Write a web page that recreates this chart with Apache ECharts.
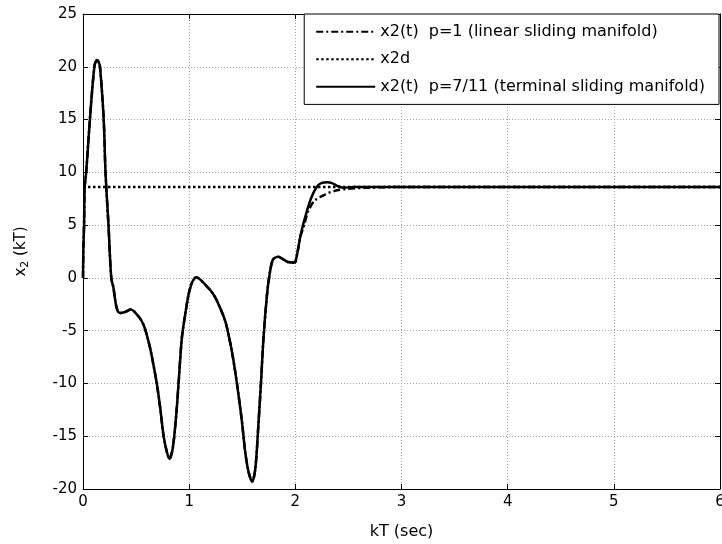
<!DOCTYPE html>
<html>
<head>
<meta charset="utf-8">
<script src="https://cdn.jsdelivr.net/npm/echarts@6/dist/echarts.min.js"></script>
<style>
  html, body { margin: 0; padding: 0; background: #fff; }
  #chart { width: 722px; height: 544px; }
</style>
</head>
<body>
<div id="chart"></div>
<script>
// time samples shared by both responses up to t = 2 (sec)
var tCommon = [0, 0.004, 0.01, 0.016, 0.03, 0.065, 0.107, 0.13, 0.145, 0.16, 0.195, 0.212, 0.24, 0.266,
  0.286, 0.317, 0.349, 0.396, 0.45, 0.522, 0.57, 0.6, 0.632, 0.663, 0.695, 0.727, 0.758, 0.79, 0.815,
  0.846, 0.878, 0.9, 0.931, 0.962, 0.994, 1.025, 1.066, 1.151, 1.23, 1.292, 1.34, 1.371, 1.403, 1.434,
  1.465, 1.497, 1.528, 1.56, 1.593, 1.623, 1.654, 1.676, 1.7, 1.733, 1.757, 1.79, 1.84, 1.88, 1.93,
  1.98, 2.0];
var x2Common = [0, 3, 5, 8.6, 10, 15, 20, 20.65, 20.5, 20, 15, 10, 5, 0,
  -0.9, -2.85, -3.32, -3.23, -3.0, -3.64, -4.43, -5.38, -6.65, -8.2, -10, -12.3, -14.9, -16.5, -17.15,
  -16.1, -13, -10, -5.7, -3.5, -1.6, -0.5, 0.05, -0.63, -1.58, -2.85, -4.1, -5.4, -7, -8.9,
  -11.1, -13.6, -16.5, -18.4, -19.3, -18.1, -13.6, -10, -5.7, -1.6, 0.3, 1.75, 2.0, 1.8, 1.5,
  1.45, 1.5];

// p = 1 (linear sliding manifold) after t = 2
var tLinear = [2.05, 2.08, 2.12, 2.18, 2.28, 2.37, 2.5, 2.69, 2.9, 6];
var x2Linear = [4.0, 4.9, 6.3, 7.3, 7.9, 8.24, 8.45, 8.55, 8.6, 8.6];

// p = 7/11 (terminal sliding manifold) after t = 2
var tTerminal = [2.05, 2.09, 2.15, 2.21, 2.25, 2.3, 2.34, 2.4, 2.45, 2.55, 6];
var x2Terminal = [4.07, 5.67, 7.6, 8.72, 9.0, 9.05, 9.0, 8.7, 8.55, 8.6, 8.6];

// desired value
var tDesired = [0, 6];
var x2dValue = 8.6;

var names = [
  'x2(t)  p=1 (linear sliding manifold)',
  'x2d',
  'x2(t)  p=7/11 (terminal sliding manifold)'
];

function pairs(ts, ys) {
  return ts.map(function (t, i) { return [t, ys[i]]; });
}

var linearData = pairs(tCommon, x2Common).concat(pairs(tLinear, x2Linear));
var terminalData = pairs(tCommon, x2Common).concat(pairs(tTerminal, x2Terminal));
var desiredData = tDesired.map(function (t) { return [t, x2dValue]; });

var font = "'DejaVu Sans', sans-serif";
var chart = echarts.init(document.getElementById('chart'));

var gridLine = { show: true, lineStyle: { color: '#a0a0a0', type: [1, 2], width: 1 } };
var boxLine = { show: true, onZero: false, lineStyle: { color: '#000', width: 1 } };
var inTick = { show: true, inside: true, length: 5, lineStyle: { color: '#000' } };

var option = {
  animation: false,
  backgroundColor: '#fff',
  textStyle: { fontFamily: font },
  grid: { left: 83, right: 2, top: 14, bottom: 55, containLabel: false, outerBoundsMode: 'none' },
  legend: {
    orient: 'vertical',
    right: 3,
    top: 14,
    data: names,
    itemWidth: 59,
    itemHeight: 14,
    itemGap: 11.5,
    padding: [9.7, 14, 9.7, 11],
    backgroundColor: '#fff',
    borderColor: '#000',
    borderWidth: 1,
    borderRadius: 0,
    itemStyle: { opacity: 0 },
    textStyle: { fontFamily: font, fontSize: 16, lineHeight: 14, color: '#000' }
  },
  xAxis: [
    {
      type: 'value', min: 0, max: 6, interval: 1,
      axisLine: boxLine, axisTick: inTick, splitLine: gridLine,
      axisLabel: { color: '#000', fontSize: 15, fontFamily: font, margin: 6 },
      name: 'kT (sec)', nameLocation: 'middle', nameGap: 35,
      nameTextStyle: { color: '#000', fontSize: 16, fontFamily: font }
    },
    {
      type: 'value', position: 'top', min: 0, max: 6, interval: 1,
      axisLine: boxLine, axisTick: inTick, splitLine: { show: false },
      axisLabel: { show: false }
    }
  ],
  yAxis: [
    {
      type: 'value', min: -20, max: 25, interval: 5,
      axisLine: boxLine, axisTick: inTick, splitLine: gridLine,
      axisLabel: { color: '#000', fontSize: 15, fontFamily: font, margin: 6 },
      name: '{a|x}{b|2}{a| (kT)}', nameLocation: 'middle', nameGap: 52, nameRotate: 90,
      nameTextStyle: {
        color: '#000', fontFamily: font,
        rich: {
          a: { fontSize: 15, fontFamily: font, color: '#000' },
          b: { fontSize: 11, fontFamily: font, color: '#000', padding: [8, 0, 0, 0] }
        }
      }
    },
    {
      type: 'value', position: 'right', min: -20, max: 25, interval: 5,
      axisLine: boxLine, axisTick: inTick, splitLine: { show: false },
      axisLabel: { show: false }
    }
  ],
  series: [
    {
      name: names[0], type: 'line', data: linearData, symbol: 'none', smooth: 0.3,
      itemStyle: { color: '#000' },
      lineStyle: { color: '#000', width: 2.5, type: [7, 3, 2, 3] }, z: 2
    },
    {
      name: names[1], type: 'line', data: desiredData, symbol: 'none',
      itemStyle: { color: '#000' },
      lineStyle: { color: '#000', width: 2.5, type: [2.5, 2.5] }, z: 3
    },
    {
      name: names[2], type: 'line', data: terminalData, symbol: 'none', smooth: 0.3,
      itemStyle: { color: '#000' },
      lineStyle: { color: '#000', width: 2.5, type: 'solid' }, z: 4
    }
  ]
};

chart.setOption(option);
</script>
</body>
</html>
